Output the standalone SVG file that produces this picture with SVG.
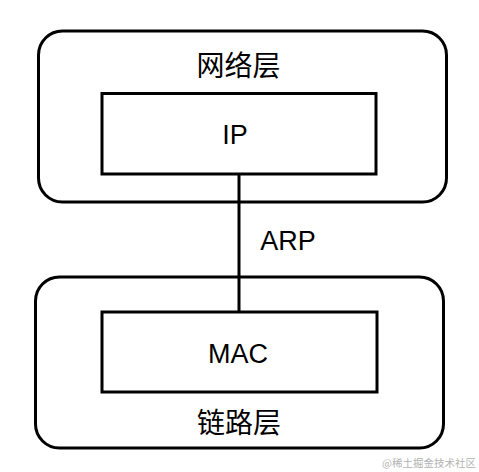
<svg xmlns="http://www.w3.org/2000/svg" width="479" height="472" viewBox="0 0 479 472">
<style>
.outer{fill:#fff;stroke:#000;stroke-width:3}
.inner{fill:#fff;stroke:#000;stroke-width:3}
.lbl{font-family:"Liberation Sans","Noto Sans CJK SC",sans-serif;font-size:27px;fill:#000;text-anchor:middle}
.cjk{font-family:"Noto Sans CJK SC",sans-serif;font-size:28px;fill:#000;text-anchor:middle}
.wm{font-family:"Noto Sans CJK SC",sans-serif;font-size:10.5px;fill:#b3b3b3;text-anchor:end}
</style>
<rect width="479" height="472" fill="#fff"/>
<g id="network-layer">
<rect class="outer" x="38.5" y="31" width="408" height="171" rx="24"/>
<text class="cjk" x="238.5" y="76">网络层</text>
</g>
<g id="link-layer">
<rect class="outer" x="35.5" y="277" width="408" height="171" rx="24"/>
<text class="cjk" x="239" y="433">链路层</text>
</g>
<g id="connectors">
<line x1="239" y1="174" x2="239" y2="312" stroke="#000" stroke-width="3"/>
<text class="lbl" x="288" y="250">ARP</text>
</g>
<g id="ip">
<rect class="inner" x="102" y="93.5" width="274" height="80.5"/>
<text class="lbl" x="235" y="143.5">IP</text>
</g>
<g id="mac">
<rect class="inner" x="102" y="312" width="275" height="80"/>
<text class="lbl" x="238" y="363">MAC</text>
</g>
<text class="wm" x="476" y="467">@稀土掘金技术社区</text>
</svg>
